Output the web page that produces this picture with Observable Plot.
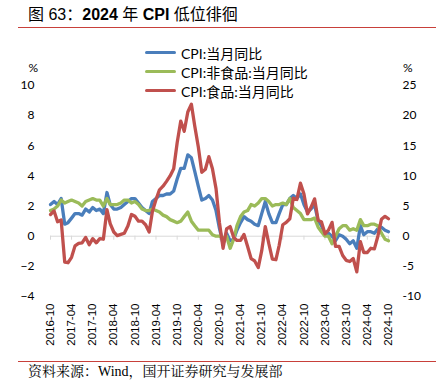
<!DOCTYPE html>
<html><head><meta charset="utf-8">
<script src="https://cdn.jsdelivr.net/npm/d3@7"></script>
<script src="https://cdn.jsdelivr.net/npm/@observablehq/plot@0.6"></script>
<style>
body{margin:0;width:436px;height:383px;position:relative;background:#fff;overflow:hidden;font-family:"Liberation Sans","Noto Sans CJK SC",sans-serif;}
#title{position:absolute;left:28px;top:5px;font-size:16px;line-height:20px;color:#000;white-space:nowrap;}
#title b{font-weight:bold;}
.rule{position:absolute;left:18px;width:418px;height:1px;background:#c8403a;}
#chart{position:absolute;left:0;top:30px;}
#legend{position:absolute;left:145px;top:43px;}
.row{position:absolute;left:0;height:19px;display:flex;align-items:center;white-space:nowrap;font-family:Lato,"Noto Sans CJK SC",sans-serif;font-size:14px;color:#000;}
.sw{display:inline-block;width:31px;height:3.5px;border-radius:2px;margin-right:5px;}
#caption{position:absolute;left:28px;top:363px;font-size:14px;line-height:17px;font-family:"Liberation Serif","Noto Serif CJK SC","Noto Sans CJK SC",serif;color:#000;white-space:nowrap;}
</style></head>
<body>
<div id="title">图 63：<b>2024</b> 年 <b>CPI</b> 低位徘徊</div>
<div class="rule" style="top:27px"></div>
<div id="chart"></div>
<div id="legend"></div>
<div class="rule" style="top:361px"></div>
<div id="caption">资料来源：Wind，国开证券研究与发展部</div>
<script>
const startMonth = "2016-10";
const seriesNames = ["CPI:当月同比", "CPI:非食品:当月同比", "CPI:食品:当月同比"];
const seriesColors = ["#4a7ebb", "#9bbb59", "#c0504d"];
// CPI headline yoy, 2016-10 .. 2024-10
const cpi = [
  2.1, 2.3, 2.1,
  2.5, 0.8, 0.9, 1.2, 1.5, 1.5, 1.4, 1.8, 1.6, 1.9, 1.7, 1.8,
  1.5, 2.9, 2.1, 1.8, 1.8, 1.9, 2.1, 2.3, 2.5, 2.5, 2.2, 1.9,
  1.7, 1.5, 2.3, 2.5, 2.7, 2.7, 2.8, 2.8, 3.0, 3.8, 4.5, 4.5,
  5.4, 5.2, 4.3, 3.3, 2.4, 2.5, 2.7, 2.4, 1.7, 0.5, -0.5, 0.2,
  -0.3, -0.2, 0.4, 0.9, 1.3, 1.1, 1.0, 0.8, 0.7, 1.5, 2.3, 1.5,
  0.9, 0.9, 1.5, 2.1, 2.1, 2.5, 2.7, 2.5, 2.8, 2.1, 1.6, 1.8,
  2.1, 1.0, 0.7, 0.1, 0.2, 0.0, -0.3, 0.1, 0.0, -0.2, -0.5, -0.3,
  -0.8, 0.7, 0.1, 0.3, 0.3, 0.2, 0.5, 0.6, 0.4, 0.3
];
// CPI non-food yoy (left axis)
const nonFood = [
  1.7, 1.8, 2.0,
  2.4, 2.2, 2.3, 2.4, 2.3, 2.2, 2.0, 2.3, 2.4, 2.5, 2.4, 2.4,
  2.0, 2.5, 2.1, 2.1, 2.1, 2.2, 2.4, 2.4, 2.2, 2.3, 2.1, 1.8,
  1.7, 1.7, 1.8, 1.7, 1.6, 1.4, 1.3, 1.1, 1.0, 0.9, 1.0, 1.3,
  1.6, 1.0, 0.7, 0.4, 0.4, 0.4, 0.4, 0.1, 0.0, 0.0, -0.1, 0.0,
  -0.8, -0.2, 0.7, 1.3, 1.6, 1.7, 2.1, 2.0, 2.2, 2.5, 2.5, 2.3,
  2.0, 2.1, 2.1, 2.2, 2.1, 2.5, 1.9, 1.7, 1.5, 1.1, 1.1, 1.1,
  1.2, 0.6, 0.3, 0.0, 0.0, -0.5, 0.0, 0.5, 0.7, 0.7, 0.4, 0.5,
  0.4, 1.1, 0.7, 0.7, 0.8, 0.8, 0.7, 0.2, -0.2, -0.3
];
// CPI food yoy (right axis)
const food = [
  3.6, 4.2, 2.4,
  2.7, -4.3, -4.4, -3.5, -1.6, -1.2, -1.1, -0.2, -1.4, -0.4, -1.1, -0.4,
  -0.5, 4.4, 2.1, 0.7, 0.1, 0.3, 0.5, 1.7, 3.6, 3.3, 2.5, 2.5,
  1.9, 0.7, 4.1, 6.1, 7.7, 8.3, 9.1, 10.0, 11.2, 15.5, 19.1, 17.4,
  20.6, 21.9, 18.3, 14.8, 10.6, 11.1, 13.2, 11.2, 7.9, 2.2, -2.0, 1.2,
  1.6, -0.2, -0.7, -0.7, 0.3, -1.7, -3.7, -4.1, -5.2, -2.4, 1.6, -1.2,
  -3.8, -3.9, -1.5, 1.9, 2.3, 2.9, 6.3, 6.1, 8.8, 7.0, 3.7, 4.8,
  6.2, 2.6, 2.4, 0.4, 1.0, 2.3, -1.7, -1.7, -3.2, -4.0, -4.2, -3.7,
  -5.9, -0.9, -2.7, -2.7, -2.0, -2.1, 0.0, 2.8, 3.3, 2.9
];
const xTickLabels = ["2016-10","2017-04","2017-10","2018-04","2018-10","2019-04","2019-10","2020-04","2020-10","2021-04","2021-10","2022-04","2022-10","2023-04","2023-10","2024-04","2024-10"];
const leftTicks = [-4, -2, 0, 2, 4, 6, 8, 10];
const rightFactor = 2.5; // right axis = left axis * 2.5

const parse = d3.utcParse("%Y-%m");
const t0 = parse(startMonth);
const rows = cpi.map((v, i) => ({
  date: d3.utcMonth.offset(t0, i),
  cpi: v, nonFood: nonFood[i], food: food[i]
}));
const xTicks = xTickLabels.map(parse);
const lastDate = rows[rows.length - 1].date;

const axisFont = {fontFamily: "Lato, 'Liberation Sans', sans-serif", fontSize: 12};

const chart = Plot.plot({
  width: 436, height: 330,
  marginLeft: 50, marginRight: 48, marginTop: 55, marginBottom: 64,
  style: {fontFamily: "'Liberation Sans', sans-serif", background: "transparent", color: "#000"},
  x: {type: "utc", domain: [t0, lastDate]},
  y: {domain: [-4, 10]},
  marks: [
    Plot.ruleY([0], {stroke: "#d9d9d9", strokeWidth: 1}),
    Plot.ruleX(xTicks, {y1: 0, y2: 0, insetBottom: -4, stroke: "#d9d9d9", strokeWidth: 1}),
    Plot.line(rows, {x: "date", y: "cpi", stroke: seriesColors[0], strokeWidth: 3.3, strokeLinejoin: "round", strokeLinecap: "round"}),
    Plot.line(rows, {x: "date", y: "nonFood", stroke: seriesColors[1], strokeWidth: 3.3, strokeLinejoin: "round", strokeLinecap: "round"}),
    Plot.line(rows, {x: "date", y: d => d.food / rightFactor, stroke: seriesColors[2], strokeWidth: 3.3, strokeLinejoin: "round", strokeLinecap: "round"}),
    Plot.axisY(leftTicks, {anchor: "left", tickSize: 0, tickPadding: 16, label: null, ...axisFont}),
    Plot.axisY(leftTicks, {anchor: "right", tickSize: 0, tickPadding: 14, label: null, tickFormat: d => String(Math.round(d * rightFactor)), ...axisFont}),
    Plot.axisX(xTicks, {anchor: "bottom", tickSize: 0, tickPadding: 7, tickRotate: -90, label: null, tickFormat: d3.utcFormat("%Y-%m"), fontSize: 11.5, fontFamily: "'Liberation Sans', sans-serif"}),
    Plot.text(["%"], {frameAnchor: "top-left", dx: -22, dy: -22, ...axisFont}),
    Plot.text(["%"], {frameAnchor: "top-right", dx: 24, dy: -22, ...axisFont})
  ]
});
document.getElementById("chart").appendChild(chart);

const legend = document.getElementById("legend");
seriesNames.forEach((name, i) => {
  const r = document.createElement("div");
  r.className = "row";
  r.style.top = (i * 19) + "px";
  const sw = document.createElement("span");
  sw.className = "sw";
  sw.style.background = seriesColors[i];
  r.appendChild(sw);
  r.appendChild(document.createTextNode(name));
  legend.appendChild(r);
});
</script>
</body></html>
